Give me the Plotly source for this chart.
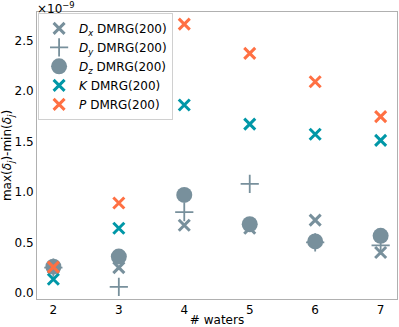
import plotly.graph_objects as go

waters = [2, 3, 4, 5, 6, 7]
# values in units of 1e-9
dx_vals = [0.25, 0.25, 0.67, 0.64, 0.72, 0.40]
dy_vals = [0.25, 0.06, 0.80, 1.08, 0.50, 0.47]
dz_vals = [0.26, 0.36, 0.97, 0.68, 0.51, 0.565]
k_vals = [0.135, 0.64, 1.86, 1.67, 1.57, 1.51]
p_vals = [0.255, 0.89, 2.66, 2.37, 2.09, 1.745]

gray = "#78909C"
teal = "#0097A7"
orange = "#FF7043"

fig = go.Figure()
fig.add_trace(go.Scatter(x=waters, y=dx_vals, mode="markers",
    name="<i>D</i><sub><i>x</i></sub> DMRG(200)",
    marker=dict(symbol="x-thin", size=11, color=gray, line=dict(width=3, color=gray))))
fig.add_trace(go.Scatter(x=waters, y=dy_vals, mode="markers",
    name="<i>D</i><sub><i>y</i></sub> DMRG(200)",
    marker=dict(symbol="cross-thin", size=13, color=gray, line=dict(width=1.8, color=gray))))
fig.add_trace(go.Scatter(x=waters, y=dz_vals, mode="markers",
    name="<i>D</i><sub><i>z</i></sub> DMRG(200)",
    marker=dict(symbol="circle", size=16, color=gray, line=dict(width=0))))
fig.add_trace(go.Scatter(x=waters, y=k_vals, mode="markers",
    name="<i>K</i> DMRG(200)",
    marker=dict(symbol="x-thin", size=11, color=teal, line=dict(width=3, color=teal))))
fig.add_trace(go.Scatter(x=waters, y=p_vals, mode="markers",
    name="<i>P</i> DMRG(200)",
    marker=dict(symbol="x-thin", size=11, color=orange, line=dict(width=3, color=orange))))

fig.update_layout(
    width=399, height=327,
    margin=dict(l=37, r=2, t=12, b=28, autoexpand=False),
    plot_bgcolor="white", paper_bgcolor="white",
    font=dict(family="DejaVu Sans", size=12, color="black"),
    showlegend=True,
    legend=dict(x=0.003, y=0.997, xanchor="left", yanchor="top",
                bgcolor="rgba(255,255,255,0.8)", bordercolor="#d0d0d0", borderwidth=1,
                font=dict(size=12), tracegroupgap=0, itemwidth=30),
    xaxis=dict(range=[1.75, 7.25], tickvals=waters, ticktext=[str(w) for w in waters],
               showgrid=False, zeroline=False, showline=True, linecolor="#b0b0b0",
               linewidth=1, mirror=True, ticks="", tickfont=dict(size=12), automargin=False,
               title=dict(text="# waters", font=dict(size=12))),
    yaxis=dict(range=[-0.06, 2.78], tickvals=[0.0, 0.5, 1.0, 1.5, 2.0, 2.5],
               ticktext=["0.0", "0.5", "1.0", "1.5", "2.0", "2.5"],
               showgrid=False, zeroline=False, showline=True, linecolor="#b0b0b0",
               linewidth=1, mirror=True, ticks="", tickfont=dict(size=12), automargin=False,
               title=dict(text="max(<i>δ</i><sub><i>j</i></sub>)-min(<i>δ</i><sub><i>j</i></sub>)",
                          font=dict(size=12))),
)
fig.add_annotation(text="×10<sup>−9</sup>", xref="paper", yref="paper", x=0, y=1,
                   xanchor="left", yanchor="bottom", showarrow=False,
                   font=dict(size=12), xshift=-2, yshift=-6)

fig.write_html("out.html", config={"displayModeBar": False},
               post_script="document.body.style.margin='0px';")
